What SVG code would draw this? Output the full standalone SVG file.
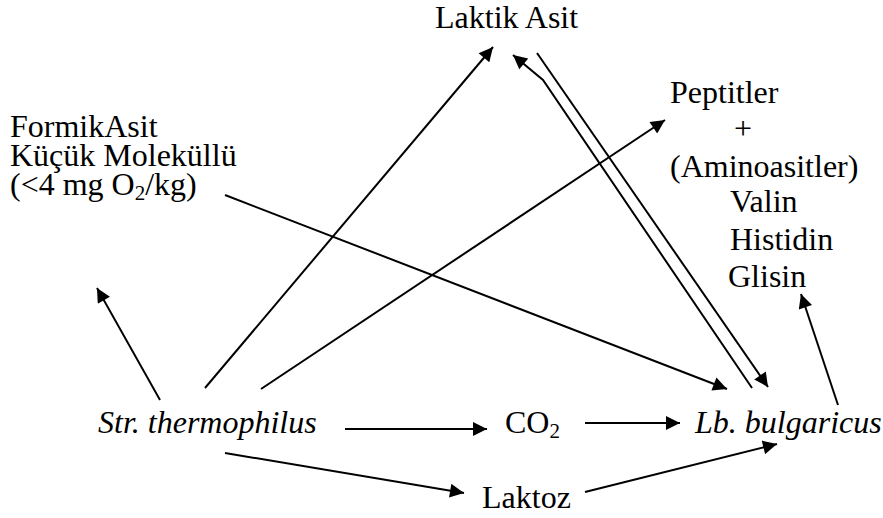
<svg xmlns="http://www.w3.org/2000/svg" width="883" height="518" viewBox="0 0 883 518">
<style>
.t{font-family:'Liberation Serif','Times New Roman','DejaVu Serif',serif;font-size:32px;fill:#000}
.it{font-style:italic}
.c{stroke:#000;stroke-width:2;fill:none}
</style>
<defs>
<marker id="ah" viewBox="0 0 10 10" refX="10" refY="5" markerWidth="8" markerHeight="7" markerUnits="strokeWidth" orient="auto">
<path d="M0,0 L10,5 L0,10 Z" fill="#000"/>
</marker>
</defs>
<rect width="883" height="518" fill="#fff"/>
<g class="t">
<g id="laktik"><text x="435" y="28">Laktik Asit</text></g>
<g id="formik">
<text x="10" y="137">FormikAsit</text>
<text x="10" y="166">Küçük Moleküllü</text>
<text x="10" y="195">(&lt;4 mg O<tspan font-size="21" dy="5">2</tspan><tspan dy="-5">/kg)</tspan></text>
</g>
<g id="peptit">
<text x="670" y="103">Peptitler</text>
<text x="743" y="139" text-anchor="middle">+</text>
<text x="670" y="177">(Aminoasitler)</text>
<text x="730" y="212">Valin</text>
<text x="730" y="250">Histidin</text>
<text x="728" y="287">Glisin</text>
</g>
<g id="str"><text class="it" x="98" y="433">Str. thermophilus</text></g>
<g id="co2"><text x="505" y="433">CO<tspan font-size="21" dy="5">2</tspan></text></g>
<g id="lb"><text class="it" x="695" y="433">Lb. bulgaricus</text></g>
<g id="laktoz"><text x="482" y="508">Laktoz</text></g>
</g>
<g id="connectors">
<line class="c" x1="345" y1="429" x2="487" y2="429" marker-end="url(#ah)"/>
<line class="c" x1="585" y1="423" x2="680" y2="423" marker-end="url(#ah)"/>
<line class="c" x1="225" y1="453" x2="464" y2="493" marker-end="url(#ah)"/>
<line class="c" x1="585" y1="492" x2="777" y2="444" marker-end="url(#ah)"/>
<line class="c" x1="160" y1="400" x2="97" y2="288" marker-end="url(#ah)"/>
<line class="c" x1="205" y1="388" x2="493" y2="47" marker-end="url(#ah)"/>
<polyline class="c" points="752,388 543,80 513,55" marker-end="url(#ah)"/>
<line class="c" x1="537" y1="53" x2="768" y2="387" marker-end="url(#ah)"/>
<line class="c" x1="261" y1="389" x2="665" y2="120" marker-end="url(#ah)"/>
<line class="c" x1="225" y1="195" x2="727" y2="389" marker-end="url(#ah)"/>
<line class="c" x1="838" y1="405" x2="801" y2="294" marker-end="url(#ah)"/>
</g>
</svg>
